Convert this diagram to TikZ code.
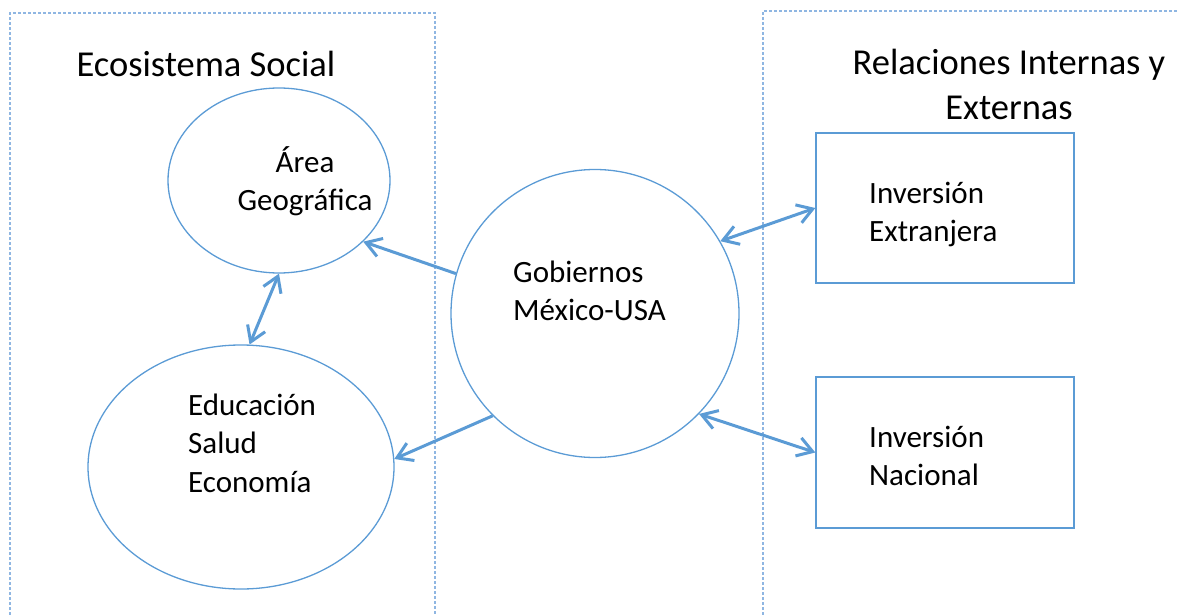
\documentclass[tikz,border=0pt]{standalone}
\usepackage{fontspec}
\setmainfont{Carlito}
\usetikzlibrary{shapes.geometric,arrows.meta}
\definecolor{lineblue}{HTML}{5B9BD5}
\definecolor{frameblue}{HTML}{8FB6E2}
\begin{document}
\begin{tikzpicture}[x=1pt, y=-1pt,
  shape line/.style={draw=lineblue, line width=1.3pt, inner sep=0pt},
  frame/.style={draw=frameblue, line width=1.4pt, dash pattern=on 3pt off 2pt},
  link/.style={draw=lineblue, line width=3pt, arrows={-Straight Barb[length=15pt, width=19pt]}},
  twoway/.style={link, arrows={Straight Barb[length=15pt, width=19pt]-Straight Barb[length=15pt, width=19pt]}},
  label/.style={inner sep=0pt, font=\fontsize{31}{38.5}\selectfont, align=left},
  heading/.style={inner sep=0pt, font=\fontsize{36.5}{45}\selectfont, align=center}]
\useasboundingbox (0,0) rectangle (1178,615);
% group frames
\draw[frame] (10,615) -- (10,13) -- (435,13) -- (435,615);
\draw[frame] (763,615) -- (763,11) -- (1178,11);
\node[heading, anchor=base] (social) at (206,77) {Ecosistema Social};
\node[heading, anchor=base] (relations) at (1009,120) {Relaciones Internas y\\Externas};
% shapes
\node[ellipse, shape line, minimum width=222pt, minimum height=185pt] (area) at (279,180.5){};
\node[ellipse, shape line, minimum width=306pt, minimum height=244pt] (edu) at (241,467){};
\node[circle, shape line, minimum size=288pt] (gob) at (595,313.5){};
\node[rectangle, shape line, minimum width=258pt, minimum height=150pt] (ext) at (945,208){};
\node[rectangle, shape line, minimum width=258pt, minimum height=151pt] (nac) at (945,452.5){};
% texts (base = last line)
\node[label, anchor=base, align=center] (areaText) at (305,210.5) {Área\\Geográfica};
\node[label, anchor=base west] (eduText) at (188,492) {Educación\\Salud\\Economía};
\node[label, anchor=base west] (gobText) at (513,320.5) {Gobiernos\\México-USA};
\node[label, anchor=base west] (extText) at (869,241.5) {Inversión\\Extranjera};
\node[label, anchor=base west] (nacText) at (869,485.5) {Inversión\\Nacional};
% connectors
\draw[link](gob.164) -- (area.324);
\draw[twoway](area.south) -- (edu.86);
\draw[link](gob.225) -- (edu.3);
\draw[twoway](gob.30) -- (ext.west);
\draw[twoway](gob.316) -- (nac.west);
\end{tikzpicture}
\end{document}
